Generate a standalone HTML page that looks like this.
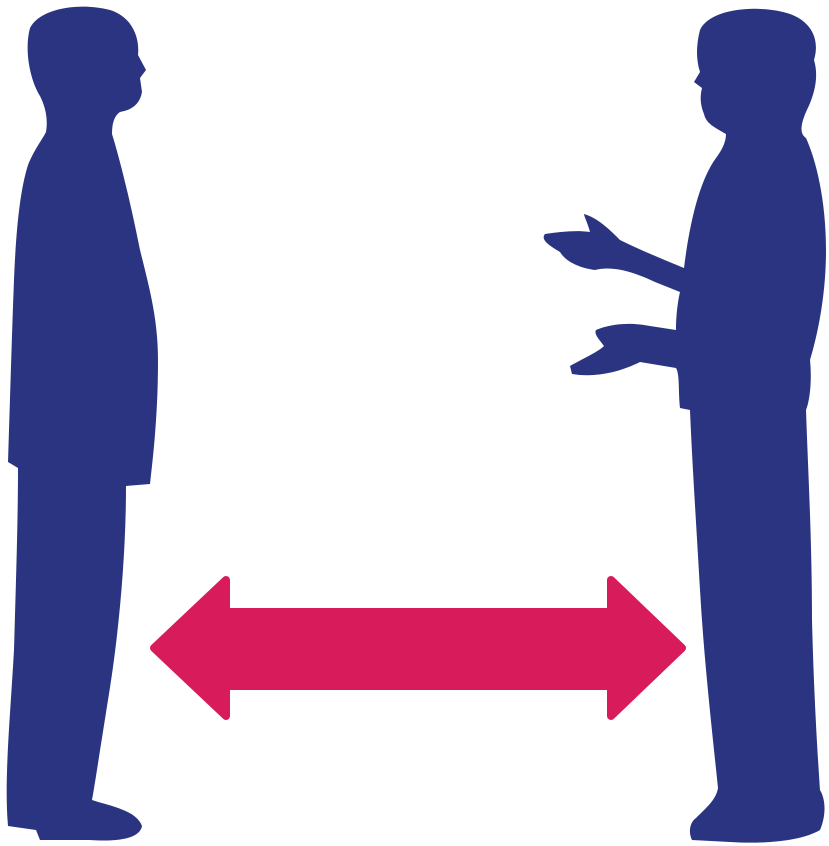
<!DOCTYPE html>
<html>
<head>
<meta charset="utf-8">
<style>
html,body{margin:0;padding:0;background:#fff;}
svg{display:block;}
</style>
</head>
<body>
<svg width="829" height="846" viewBox="0 0 829 846" xmlns="http://www.w3.org/2000/svg">
  <g fill="#2b3480">
    <path d="M30,28 C40,8 80,2 110,10 C130,16 140,35 138,55 L146,70 L140,78 L142,92 C140,104 132,110 120,112 C114,116 112,124 112,134 C120,160 130,200 140,250 C150,290 158,320 158,360 C158,410 154,450 150,484 L126,486 C126,560 118,640 108,700 C100,750 94,790 92,800 C110,806 136,810 142,826 C140,838 120,842 90,840 L40,840 L36,830 L8,826 C4,780 10,720 14,650 C16,580 18,520 18,468 L8,462 C10,400 12,330 14,280 C16,230 20,190 28,165 C34,150 42,140 46,132 C48,120 46,108 40,96 C30,80 24,50 30,28 Z"/>
  </g>
  <g fill="#2b3480">
    <path d="M700,30 C710,8 760,4 790,14 C812,22 820,40 814,60 C820,80 812,100 806,112 C800,126 800,134 806,138 C816,160 826,200 826,250 C826,300 816,340 810,360 C812,380 810,400 806,410 C808,470 812,540 812,620 C814,700 818,760 820,790 C826,800 826,816 820,830 C800,842 760,844 730,842 L692,840 C688,832 690,822 696,818 C706,808 716,800 718,788 C712,730 704,660 700,590 C696,520 692,460 690,410 L680,408 C678,390 680,375 676,368 L640,362 C620,372 596,378 572,374 L570,366 C584,358 598,352 604,346 C598,338 594,334 596,330 C610,324 630,322 650,326 L676,330 C676,315 678,300 680,292 L655,282 C630,270 610,266 595,270 C580,268 566,262 560,252 C550,246 540,240 545,234 C560,232 575,230 590,232 C588,224 584,216 584,214 C598,218 610,230 620,240 C640,250 660,258 684,268 C690,220 700,180 716,158 C722,150 726,142 726,134 C716,128 706,124 704,114 C700,104 700,96 702,88 L694,82 L700,72 C696,60 696,45 700,30 Z"/>
  </g>
  <polygon fill="#d81b5a" stroke="#d81b5a" stroke-width="8" stroke-linejoin="round"
    points="154,648 226,580 226,612 611,612 611,580 682,648 611,716 611,686 226,686 226,716"/>
</svg>
</body>
</html>
